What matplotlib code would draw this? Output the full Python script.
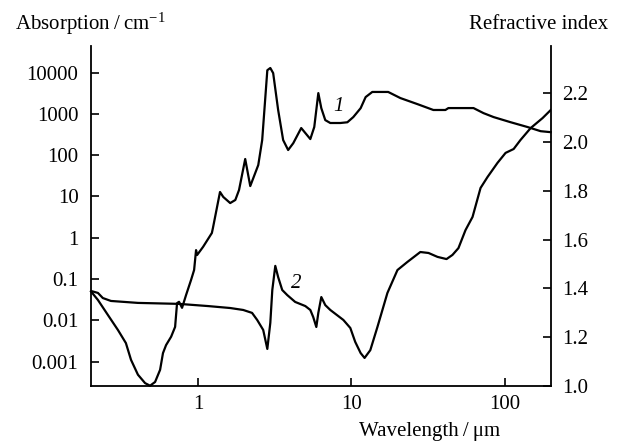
import numpy as np
import matplotlib
matplotlib.use('Agg')
import matplotlib.pyplot as plt
from matplotlib.ticker import FixedLocator, FixedFormatter

plt.rcParams['font.family'] = ['Liberation Serif', 'DejaVu Serif']
plt.rcParams['mathtext.fontset'] = 'custom'
plt.rcParams['mathtext.rm'] = 'Liberation Serif'
plt.rcParams['mathtext.it'] = 'Liberation Serif:italic'

# curve 1: absorption (left, log)
wl_abs = [0.2, 0.222, 0.258, 0.300, 0.338, 0.365, 0.405, 0.451, 0.486, 0.524,
          0.565, 0.590, 0.618, 0.667, 0.708, 0.729, 0.751, 0.786, 0.835, 0.900,
          0.942, 0.970, 0.985, 1.078, 1.23, 1.25, 1.39, 1.46, 1.62, 1.75,
          1.85, 2.03, 2.19, 2.47, 2.62, 2.83, 2.96, 3.09, 3.33, 3.59,
          3.87, 4.18, 4.71, 5.01, 5.40, 5.73, 6.09, 6.37, 6.76, 7.29,
          8.48, 9.42, 10.3, 11.5, 12.4, 13.7, 17.4, 20.9, 27.0, 34.3,
          41.1, 43.0, 62.7, 72.9, 84.8, 109, 141, 172, 200]
absorption = [0.05, 0.031, 0.0134, 0.0058, 0.0028, 0.0011, 4.8e-4, 3.0e-4, 2.6e-4, 3.2e-4,
              6.3e-4, 0.0016, 0.0025, 0.004, 0.0069, 0.026, 0.028, 0.020, 0.041, 0.095,
              0.165, 0.50, 0.38, 0.60, 1.30, 1.72, 12.8, 9.7, 6.9, 8.2,
              14.3, 80.5, 17.8, 57.5, 232, 11400, 12900, 9700, 1240, 232,
              133, 195, 453, 343, 245, 480, 3180, 1370, 705, 600,
              600, 625, 835, 1370, 2550, 3390, 3390, 2410, 1720, 1240,
              1240, 1380, 1380, 1040, 835, 630, 480, 380, 360]

# curve 2: refractive index (right, linear)
wl_n = [0.2, 0.222, 0.239, 0.270, 0.405, 0.751, 1.162, 1.62, 1.97, 2.25,
        2.43, 2.66, 2.83, 2.96, 3.05, 3.19, 3.33, 3.54, 3.82, 4.30,
        5.01, 5.40, 5.64, 5.91, 6.09, 6.37, 6.76, 7.29, 8.87, 9.85,
        10.6, 11.5, 12.2, 13.3, 14.8, 17.2, 20.0, 23.2, 28.2, 31.9,
        36.5, 41.8, 45.7, 50.0, 55.6, 61.8, 69.7, 77.4, 89.9, 101.5,
        114.6, 127, 148, 177, 200]
ref_index = [1.389, 1.381, 1.360, 1.348, 1.340, 1.336, 1.327, 1.319, 1.311, 1.299,
             1.270, 1.229, 1.151, 1.258, 1.393, 1.492, 1.446, 1.393, 1.372, 1.344,
             1.327, 1.311, 1.282, 1.241, 1.299, 1.364, 1.331, 1.311, 1.270, 1.237,
             1.180, 1.134, 1.114, 1.146, 1.241, 1.381, 1.475, 1.508, 1.549, 1.545,
             1.529, 1.520, 1.537, 1.565, 1.639, 1.693, 1.812, 1.857, 1.915, 1.956,
             1.972, 2.009, 2.058, 2.099, 2.132]

x_ticks = [1, 10, 100]
x_labels = ['1', '10', '100']
abs_ticks = [0.001, 0.01, 0.1, 1, 10, 100, 1000, 10000]
abs_labels = ['0.001', '0.01', '0.1', '1', '10', '100', '1000', '10000']
n_ticks = [1.0, 1.2, 1.4, 1.6, 1.8, 2.0, 2.2]

fs = 15

fig = plt.figure(figsize=(6.21, 4.41), dpi=100)
ax = fig.add_axes([0.1465, 0.1254, 0.7403, 0.7703])
ax2 = ax.twinx()

ax.plot(wl_abs, absorption, color='black', lw=1.6, clip_on=False)
ax2.plot(wl_n, ref_index, color='black', lw=1.6)

ax.set_xscale('log')
ax.set_yscale('log')
ax.set_xlim(0.2, 200)
ax.set_ylim(2.6e-4, 4.4e4)
ax2.set_ylim(1.0, 2.395)

ax.xaxis.set_major_locator(FixedLocator(x_ticks))
ax.xaxis.set_major_formatter(FixedFormatter(x_labels))
ax.xaxis.set_minor_locator(FixedLocator([]))
ax.yaxis.set_major_locator(FixedLocator(abs_ticks))
ax.yaxis.set_major_formatter(FixedFormatter(abs_labels))
ax.yaxis.set_minor_locator(FixedLocator([]))
ax2.set_yticks(n_ticks)
ax2.set_yticklabels([f'{v:.1f}' for v in n_ticks])

for a in (ax, ax2):
    a.spines['top'].set_visible(False)
    for s in a.spines.values():
        s.set_linewidth(1.3)
ax.spines['right'].set_visible(False)
ax2.spines['left'].set_visible(False)
ax2.spines['bottom'].set_visible(False)

ax.tick_params(axis='x', direction='in', length=6, width=1.2, labelsize=fs, pad=7)
ax.tick_params(axis='y', direction='in', length=6, width=1.2, labelsize=fs, pad=9)
ax2.tick_params(axis='y', direction='in', length=6, width=1.2, labelsize=fs, pad=8)

fig.text(0.024, 0.945, 'Absorption\u2009/\u2009cm$^{-1}$', fontsize=fs, ha='left', va='center')
fig.text(0.98, 0.945, 'Refractive index', fontsize=fs, ha='right', va='center')
fig.text(0.692, 0.022, 'Wavelength\u2009/\u2009\u03bcm', fontsize=fs, ha='center', va='center')

ax.text(8.2, 1500, '1', fontsize=fs, style='italic', ha='center', va='center')
ax2.text(4.4, 1.42, '2', fontsize=fs, style='italic', ha='center', va='center')

fig.savefig('out.png', dpi=100)
